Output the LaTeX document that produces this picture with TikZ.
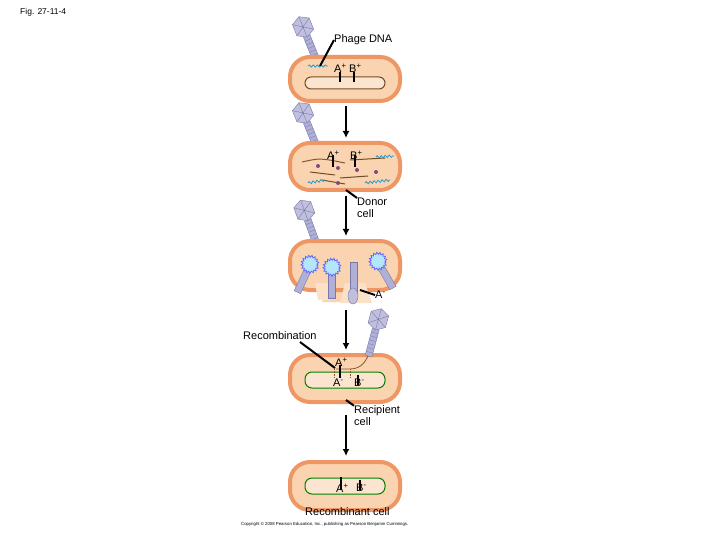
\documentclass[tikz,border=0pt]{standalone}
\usepackage{fontspec}
\setmainfont{Liberation Sans}
\usetikzlibrary{arrows.meta,decorations.pathmorphing}
\definecolor{phg}{RGB}{176,176,214}
\definecolor{phd}{RGB}{120,120,170}
\definecolor{rim}{RGB}{238,150,100}
\definecolor{cyt}{RGB}{250,212,176}
\begin{document}
\begin{tikzpicture}[x=1pt,y=-1pt,
  lab/.style={font=\fontsize{11}{12}\selectfont,inner sep=0pt,anchor=west},
  ptr/.style={line width=2pt},
  arr/.style={line width=2pt,-{Latex[length=7pt,width=7pt]}},
  chromo/.style={draw=brown!60!black,line width=1pt,rounded corners=6pt},
  gchromo/.style={draw=green!50!black,line width=1pt,rounded corners=7pt,fill=cyt!60},
  gmark/.style={line width=2.2pt},
  dna/.style={draw=cyan!60!teal,line width=0.8pt,decorate,decoration={snake,amplitude=1.2pt,segment length=4pt}},
  phage/.pic={
    \fill[phg,draw=phd] (-3.5,-2) rectangle (3.5,-30);
    \foreach \yy in {-6,-10,...,-28} \draw[phd,line width=0.3pt] (-3.5,\yy) -- (3.5,\yy);
    \fill[phg!80!white,draw=phd] (0,-29) -- (9,-34) -- (9,-46) -- (0,-51) -- (-9,-46) -- (-9,-34) -- cycle;
    \draw[phd,line width=0.4pt] (0,-29) -- (0,-51) (-9,-34) -- (9,-46) (9,-34) -- (-9,-46);
  }]
\useasboundingbox (0,0) rectangle (720,540);
\fill[white] (0,0) rectangle (720,540);
\node[lab,font=\fontsize{8.5}{9}\selectfont] (fig) at (20,12) {Fig. 27-11-4};

\tikzset{cell/.style={draw=rim,line width=4pt,fill=cyt,rounded corners=20pt}}

% cell 1
\pic[rotate=22] at (318,64) {phage};
\draw[cell] (290,57) rectangle (400,101);
\draw[dna,decoration={amplitude=1pt}] (308,66) -- (328,66);
\draw[chromo,fill=cyt!60] (305,77) rectangle (385,89);
\draw[gmark] (340,72) -- (340,82); \draw[gmark] (354,72) -- (354,82);
\node[lab] (a1) at (334,68) {A\textsuperscript{+}};
\node[lab] (b1) at (349,68) {B\textsuperscript{+}};
\node[lab] (pd) at (334,40) {Phage DNA};
\coordinate (pdt) at (320,66);
\draw[ptr] (pd.west) -- (pdt);

\coordinate (c1b) at (346,106); \coordinate (c2t) at (346,138);
\draw[arr] (c1b) -- (c2t);

% cell 2
\pic[rotate=22] at (318,150) {phage};
\draw[cell] (290,143) rectangle (400,190);
\draw[chromo,draw=brown!70!black] (302,162) .. controls (320,158) .. (345,163);
\draw[chromo] (350,160) -- (385,158);
\draw[chromo] (310,172) -- (335,175);
\draw[chromo] (340,178) -- (368,176);
\draw[chromo] (322,180) -- (345,184);
\foreach \p in {(318,166),(338,168),(357,170),(376,172),(338,183)} \fill[violet!40!gray] \p circle (2pt);
\draw[dna] (376,157) -- (394,156);
\draw[dna] (308,183) -- (325,180);
\draw[dna] (365,183) -- (390,180);
\draw[gmark] (333,155) -- (333,167); \draw[gmark] (355,155) -- (355,167);
\node[lab] (a2) at (327,155) {A\textsuperscript{+}};
\node[lab] (b2) at (350,155) {B\textsuperscript{+}};
\node[lab,align=left] (donor) at (357,208) {Donor\\cell};
\coordinate (dt) at (346,190);
\draw[ptr] (donor.north west) -- (dt);

\coordinate (c2b) at (346,196); \coordinate (c3t) at (346,236);
\draw[arr] (c2b) -- (c3t);

% cell 3
\pic[rotate=20] at (318,248) {phage};
\fill[cyt] (330,285) -- (360,285) -- (368,302) -- (322,302) -- cycle;
\draw[cell] (290,241) rectangle (400,290);
\fill[cyt] (310,275) rectangle (385,285);
\fill[cyt!70!white] (315,283) -- (330,283) -- (332,300) -- (318,300) -- cycle;
\fill[cyt!70!white] (345,283) -- (365,283) -- (372,303) -- (340,303) -- cycle;
\foreach \x/\y/\r in {310/265/-25,332/268/0,378/262/30}{
  \begin{scope}[shift={(\x,\y)},rotate=\r]
    \fill[phg,draw=phd] (-3.5,0) rectangle (3.5,30);
  \end{scope}
  \draw[blue!60,fill=cyan!30,line width=0.8pt,decorate,decoration={snake,amplitude=1pt,segment length=3pt}] (\x,\y) circle (8pt);
}
\fill[phg,draw=phd] (350,262) rectangle (357,295);
\draw[phd,fill=phg!80!white] (353,296) ellipse (5pt and 8pt);
\node[lab] (am3) at (375,295) {A\textsuperscript{-}};
\coordinate (am3t) at (360,290);
\draw[ptr] (am3.west) -- (am3t);

\coordinate (c3b) at (346,310); \coordinate (c4t) at (346,350);
\draw[arr] (c3b) -- (c4t);

% cell 4
\draw[cell] (290,355) rectangle (400,402);
\pic[rotate=-15] at (368,358) {phage};
\draw[gchromo] (305,372) rectangle (385,388);
\draw[brown!70!black,line width=0.8pt] (336,369) -- (350,369) .. controls (362,369) and (366,360) .. (368,356);
\draw[brown!70!black,line width=0.5pt,densely dotted] (334,369) -- (334,378) (350,369) -- (350,378);
\draw[gmark] (340,365) -- (340,378); \draw[gmark] (358,375) -- (358,385);
\node[lab] (a4) at (335,362) {A\textsuperscript{+}};
\node[lab] (am4) at (333,383) {A\textsuperscript{-}};
\node[lab] (bm4) at (354,383) {B\textsuperscript{-}};
\node[lab] (rec) at (243,336) {Recombination};
\coordinate (rect) at (335,368);
\draw[ptr] (300,342) -- (rect);
\node[lab,align=left] (recip) at (354,416) {Recipient\\cell};
\coordinate (rt) at (346,400);
\draw[ptr] (recip.north west) -- (rt);

\coordinate (c4b) at (346,415); \coordinate (c5t) at (346,456);
\draw[arr] (c4b) -- (c5t);

% cell 5
\draw[cell] (290,462) rectangle (400,510);
\draw[gchromo] (305,478) rectangle (385,494);
\draw[gmark] (341,477) -- (341,490); \draw[gmark] (360,480) -- (360,490);
\node[lab] (a5) at (336,488) {A\textsuperscript{+}};
\node[lab] (b5) at (356,488) {B\textsuperscript{-}};
\node[lab] (rc) at (305,512) {Recombinant cell};
\node[lab,font=\fontsize{4.3}{5}\selectfont] (copy) at (241,524) {Copyright \textcopyright{} 2008 Pearson Education, Inc., publishing as Pearson Benjamin Cummings.};
\end{tikzpicture}
\end{document}
